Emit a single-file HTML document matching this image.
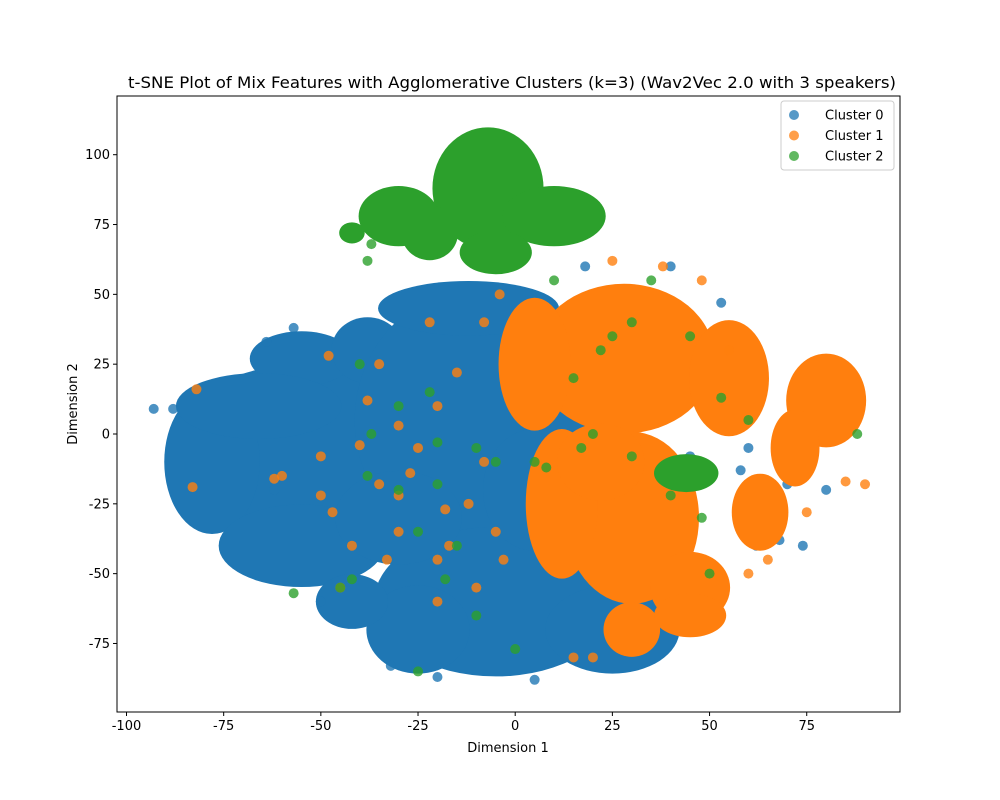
<!DOCTYPE html>
<html><head><meta charset="utf-8"><style>
body{margin:0;background:#fff;}
svg{display:block;font-family:"DejaVu Sans","Liberation Sans",sans-serif;}
</style></head><body>
<svg id="chart" width="1000" height="800"></svg>
<script>
// ---- data (t-SNE coordinates, data units) ----
// dense regions: center x, center y, radius x, radius y
const blueBlobX=[-55,-78,-55,-55,-38,-10,-12,-5,25,-25,-42,-66,-30,5];
const blueBlobY=[-5,-10,-40,27,30,5,45,-60,-70,-70,-60,10,-30,-20];
const blueBlobRX=[32,11,20,12,8,30,22,30,16,12,8,20,15,12];
const blueBlobRY=[28,24,13,8,10,45,8,25,14,14,8,10,15,20];
const orangeBlobX=[28,30,5,12,55,45,80,72,63,30,45,22];
const orangeBlobY=[27,-30,25,-25,20,-55,12,-5,-28,-70,-65,-10];
const orangeBlobRX=[22,16,8,8,9,9,9,5,6,6,8,10];
const orangeBlobRY=[25,29,22,25,19,11,15,12,12,8,6,12];
const greenBlobX=[-7,-30,10,44,-42,-5,-22];
const greenBlobY=[88,78,78,-14,72,65,72];
const greenBlobRX=[13,9,12,7,2,8,6];
const greenBlobRY=[20,9,9,5,2,6,8];
// scattered points
const bluePtX=[22,35,40,18,53,60,62,68,74,80,88,70,58,30,45,-57,-64,-88,-93,-62,-50,-32,5,-20,66];
const bluePtY=[10,45,60,60,47,-5,-40,-38,-40,-20,15,-18,-13,10,-8,38,33,9,9,-20,-60,-83,-88,-87,-38];
const orangePtX=[-82,-83,-60,-50,-47,-42,-45,-35,-33,-38,-30,-25,-20,-17,-15,-12,-8,-5,-3,-20,-10,-40,-48,-35,-27,-18,-8,-22,-4,-30,15,20,-50,-62,-30,-20,85,90,75,60,65,55,48,38,25];
const orangePtY=[16,-19,-15,-22,-28,-40,-55,-18,-45,12,3,-5,10,-40,22,-25,40,-35,-45,-60,-55,-4,28,25,-14,-27,-10,40,50,-35,-80,-80,-8,-16,-22,-45,-17,-18,-28,-50,-45,30,55,60,62];
const greenPtX=[-40,-37,-30,-30,-22,-25,-18,-15,-20,-10,-5,5,8,20,25,30,35,22,15,30,-45,-42,-57,-25,0,-10,50,48,40,-20,-38,10,-37,-38,17,45,53,60,88];
const greenPtY=[25,0,-20,10,15,-35,-52,-40,-3,-5,-10,-10,-12,0,35,40,55,30,20,-8,-55,-52,-57,-85,-77,-65,-50,-30,-22,-18,-15,55,68,62,-5,35,13,5,0];
const xTicks=[-100,-75,-50,-25,0,25,50,75];
const yTicks=[-75,-50,-25,0,25,50,75,100];
const legendLabels=["Cluster 0","Cluster 1","Cluster 2"];
const colors=["#1f77b4","#ff7f0e","#2ca02c"];

// ---- axes ----
const L=117,R=900,T=96,B=712;
const sx=v=>515.2+v*3.887;
const sy=v=>434+(-v)*2.793;
const NS="http://www.w3.org/2000/svg";
const svg=document.getElementById("chart");
function mk(tag,attrs,parent){const e=document.createElementNS(NS,tag);for(const k in attrs)e.setAttribute(k,attrs[k]);(parent||svg).appendChild(e);return e;}

const clip=mk("clipPath",{id:"clp"});mk("rect",{x:L,y:T,width:R-L,height:B-T},clip);
const plot=mk("g",{"clip-path":"url(#clp)"});



function blobs(X,Y,RX,RY,c,name){
  for(let i=0;i<X.length;i++){
    const e=mk("ellipse",{cx:sx(X[i]),cy:sy(Y[i]),rx:RX[i]*3.887+5,ry:RY[i]*2.793+5,fill:c},plot);
    
    
  }
}
function pts(X,Y,c,name){
  for(let i=0;i<X.length;i++){
    const e=mk("circle",{cx:sx(X[i]),cy:sy(Y[i]),r:5,fill:c,"fill-opacity":0.8},plot);
    
    
  }
}
blobs(blueBlobX,blueBlobY,blueBlobRX,blueBlobRY,colors[0],'cluster-0-region');
pts(bluePtX,bluePtY,colors[0],'cluster-0-point');
blobs(orangeBlobX,orangeBlobY,orangeBlobRX,orangeBlobRY,colors[1],'cluster-1-region');
pts(orangePtX,orangePtY,colors[1],'cluster-1-point');
blobs(greenBlobX,greenBlobY,greenBlobRX,greenBlobRY,colors[2],'cluster-2-region');
pts(greenPtX,greenPtY,colors[2],'cluster-2-point');

const frame=mk("rect",{x:L,y:T,width:R-L,height:B-T,fill:"none",stroke:"#000","stroke-width":1});



xTicks.forEach(v=>{
  const x=sx(v);
  mk("line",{x1:x,x2:x,y1:B,y2:B+4,stroke:"#000"});
  const t=mk("text",{x:x,y:B+18,"font-size":13,"text-anchor":"middle"});t.textContent=v;
  
  
});
yTicks.forEach(v=>{
  const y=sy(v);
  mk("line",{x1:L-4,x2:L,y1:y,y2:y,stroke:"#000"});
  const t=mk("text",{x:L-7,y:y+4.5,"font-size":13,"text-anchor":"end"});t.textContent=v;
  
  
});
const xt=mk("text",{x:508,y:752,"font-size":13,"text-anchor":"middle"});xt.textContent="Dimension 1";


const yt=mk("text",{x:77,y:404,"font-size":13,"text-anchor":"middle",transform:"rotate(-90 77 404)"});yt.textContent="Dimension 2";


const title=mk("text",{x:512,y:88,"font-size":16,"text-anchor":"middle",textLength:768,lengthAdjust:"spacingAndGlyphs"});
title.textContent="t-SNE Plot of Mix Features with Agglomerative Clusters (k=3) (Wav2Vec 2.0 with 3 speakers)";



const lg=mk("g",{});


mk("rect",{x:781,y:101,width:113,height:69,rx:3,fill:"#fff","fill-opacity":0.8,stroke:"#ccc"},lg);
legendLabels.forEach((s,i)=>{
  const y=115+i*20.5;
  const g=mk("g",{},lg);
  
  
  mk("circle",{cx:794,cy:y,r:5,fill:colors[i],"fill-opacity":0.75},g);
  const t=mk("text",{x:825,y:y+4.5,"font-size":13},g);t.textContent=s;
});
</script>
</body></html>
